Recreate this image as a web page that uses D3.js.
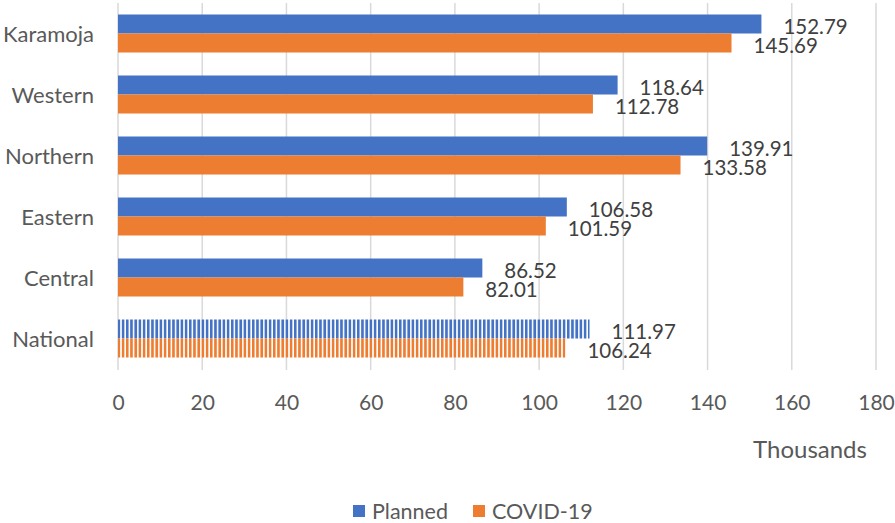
<!DOCTYPE html>
<html>
<head>
<meta charset="utf-8">
<script src="https://cdn.jsdelivr.net/npm/d3@7"></script>
<style>
  html, body { margin: 0; padding: 0; background: #fff; }
  svg { display: block; }
  text { font-family: Lato, "Open Sans", sans-serif; fill: #595959; }
</style>
</head>
<body>
<svg id="chart" width="895" height="523"></svg>
<script>
const regions = ["Karamoja", "Western", "Northern", "Eastern", "Central", "National"];
const planned = [152.79, 118.64, 139.91, 106.58, 86.52, 111.97];
const covid = [145.69, 112.78, 133.58, 101.59, 82.01, 106.24];
const xTicks = [0, 20, 40, 60, 80, 100, 120, 140, 160, 180];
const seriesNames = ["Planned", "COVID-19"];
const seriesColors = ["#4472C4", "#ED7D31"];

const svg = d3.select("#chart");
const x = d3.scaleLinear().domain([0, 180]).range([118, 876]);
const y = d3.scaleBand().domain(regions).range([3, 369]).paddingInner(0.377).paddingOuter(0.1885);
const sub = d3.scaleBand().domain(seriesNames).range([0, y.bandwidth()]);

// Striped fills for the national totals
const defs = svg.append("defs");
seriesColors.forEach((c, i) => {
  const p = defs.append("pattern")
    .attr("id", "stripe" + i)
    .attr("patternUnits", "userSpaceOnUse")
    .attr("width", 4.2).attr("height", 10);
  p.append("rect").attr("width", 4.2).attr("height", 10).attr("fill", "#fff");
  p.append("rect").attr("width", 2.6).attr("height", 10).attr("fill", c);
});

// Vertical gridlines
svg.append("g").selectAll("line").data(xTicks.slice(1)).join("line")
  .attr("x1", d => x(d)).attr("x2", d => x(d))
  .attr("y1", 3).attr("y2", 370)
  .attr("stroke", "#d9d9d9").attr("stroke-width", 1.5);

// Category axis line
svg.append("line")
  .attr("x1", x(0)).attr("x2", x(0)).attr("y1", 3).attr("y2", 370)
  .attr("stroke", "#d9d9d9").attr("stroke-width", 1.5);

// X axis
const xAxis = d3.axisBottom(x).tickValues(xTicks).tickSize(0).tickPadding(0);
const gx = svg.append("g").attr("transform", "translate(0,370)").call(xAxis);
gx.select(".domain").remove();
gx.selectAll("text")
  .attr("dy", null).attr("y", 31).attr("dominant-baseline", "central")
  .style("font-size", "21px").style("fill", "#595959")
  .style("font-family", "Lato, 'Open Sans', sans-serif");

// Y axis labels
const yAxis = d3.axisLeft(y).tickSize(0).tickPadding(0);
const gy = svg.append("g").attr("transform", "translate(94,0)").call(yAxis);
gy.select(".domain").remove();
gy.selectAll("text")
  .attr("dy", null).attr("x", 0).attr("dominant-baseline", "central")
  .style("font-size", "22px").style("fill", "#595959")
  .style("font-family", "Lato, 'Open Sans', sans-serif");

// Bars and value labels
const seriesData = [planned, covid];
seriesData.forEach((vals, si) => {
  const g = svg.append("g");
  g.selectAll("rect").data(regions).join("rect")
    .attr("x", x(0))
    .attr("y", d => y(d) + sub(seriesNames[si]))
    .attr("width", (d, i) => x(vals[i]) - x(0))
    .attr("height", sub.bandwidth())
    .attr("fill", d => d === "National" ? `url(#stripe${si})` : seriesColors[si]);
  g.selectAll("text").data(regions).join("text")
    .attr("x", (d, i) => x(vals[i]) + 22)
    .attr("y", d => y(d) + sub(seriesNames[si]) + sub.bandwidth() / 2 + (si === 0 ? 2 : 2))
    .attr("dominant-baseline", "central")
    .style("font-size", "20.5px").style("fill", "#404040")
    .text((d, i) => vals[i].toFixed(2));
});

// Unit label
svg.append("text").attr("x", 810).attr("y", 448)
  .attr("text-anchor", "middle").attr("dominant-baseline", "central")
  .style("font-size", "24px").text("Thousands");

// Legend
const legendX = [353, 473];
seriesNames.forEach((n, i) => {
  svg.append("rect").attr("x", legendX[i]).attr("y", 505).attr("width", 12).attr("height", 12)
    .attr("fill", seriesColors[i]);
  svg.append("text").attr("x", legendX[i] + 19).attr("y", 511)
    .attr("dominant-baseline", "central").style("font-size", "21.5px").text(n);
});
</script>
</body>
</html>
